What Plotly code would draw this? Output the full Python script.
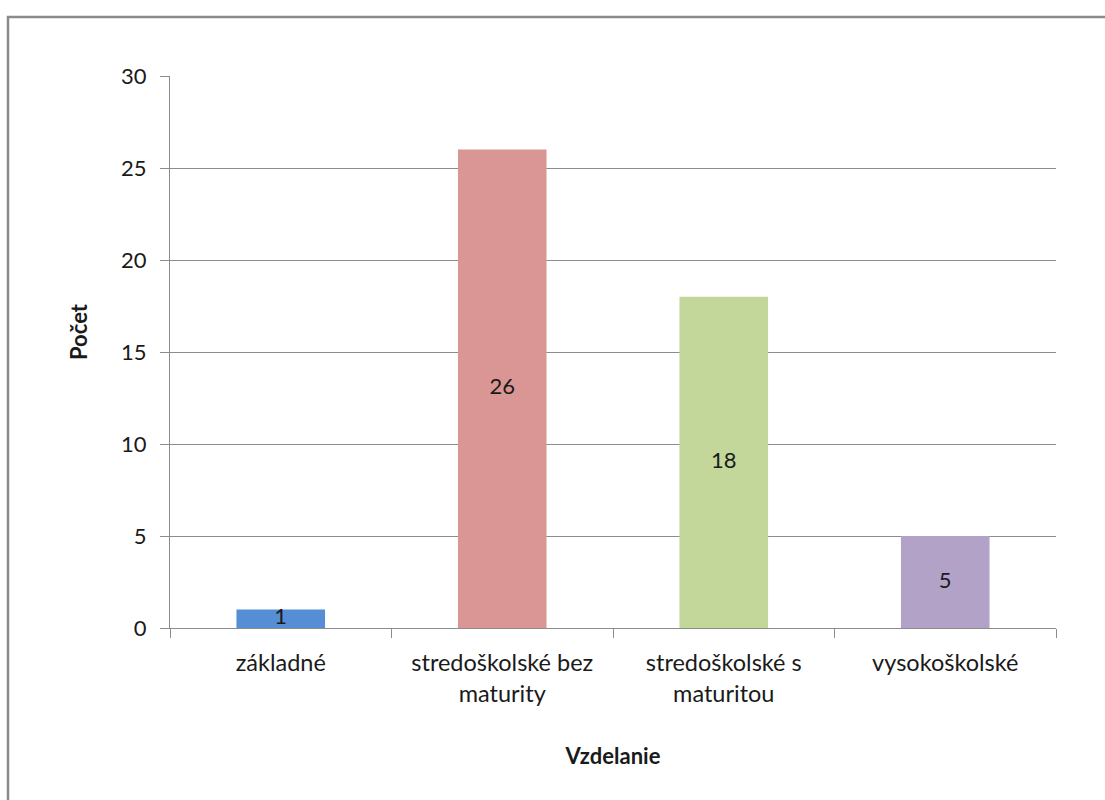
import plotly.graph_objects as go

# Respondents by highest completed education
categories = ["základné", "stredoškolské bez<br>maturity", "stredoškolské s<br>maturitou", "vysokoškolské"]
counts = [1, 26, 18, 5]
bar_colors = ["#558ED5", "#D99694", "#C4D79B", "#B3A2C7"]
y_ticks = [0, 5, 10, 15, 20, 25, 30]

FONT = "Lato"
TEXT = "#1a1a1a"
GRID = "#8c8c8c"

fig = go.Figure()

fig.add_trace(go.Bar(
    x=categories,
    y=counts,
    marker=dict(color=bar_colors, line=dict(width=0)),
    width=0.4,
    hoverinfo="skip",
    showlegend=False,
))

# Value labels centred on each bar
fig.add_trace(go.Scatter(
    x=categories,
    y=[v / 2 for v in counts],
    mode="text",
    text=[str(v) for v in counts],
    textposition="middle center",
    textfont=dict(family=FONT, size=22, color=TEXT),
    hoverinfo="skip",
    showlegend=False,
))

fig.update_layout(
    width=1105,
    height=800,
    margin=dict(l=170, r=49, t=76, b=172),
    paper_bgcolor="white",
    plot_bgcolor="white",
    font=dict(family=FONT, size=22, color=TEXT),
    bargap=0.6,
    xaxis=dict(
        type="category",
        tickson="boundaries",
        ticks="outside",
        ticklen=9,
        tickcolor=GRID,
        tickwidth=1,
        ticklabelstandoff=14,
        showline=True,
        linecolor=GRID,
        linewidth=1,
        showgrid=False,
        tickfont=dict(family=FONT, size=23.5, color=TEXT),
        title=dict(text="<b>Vzdelanie</b>", font=dict(family=FONT, size=22, color=TEXT), standoff=42),
    ),
    yaxis=dict(
        range=[0, 30],
        tickvals=y_ticks,
        ticks="outside",
        ticklen=9,
        tickcolor=GRID,
        tickwidth=1,
        ticklabelstandoff=9,
        showline=True,
        linecolor=GRID,
        linewidth=1,
        showgrid=True,
        gridcolor=GRID,
        gridwidth=1,
        zeroline=False,
        tickfont=dict(family=FONT, size=22, color=TEXT),
    ),
    annotations=[dict(
        text="<b>Počet</b>", xref="paper", yref="paper",
        x=(78 - 170) / 886, y=(628 - 332) / 552,
        xanchor="center", yanchor="middle", textangle=-90,
        showarrow=False, font=dict(family=FONT, size=22, color=TEXT),
    )],
    shapes=[dict(
        type="rect", xref="paper", yref="paper",
        x0=(8 - 170) / 886, x1=(1120 - 170) / 886,
        y0=(628 - 820) / 552, y1=(628 - 17) / 552,
        line=dict(color="#8a8a8a", width=2.5),
        fillcolor="rgba(0,0,0,0)",
        layer="below",
    )],
)

fig.write_html("out.html")
